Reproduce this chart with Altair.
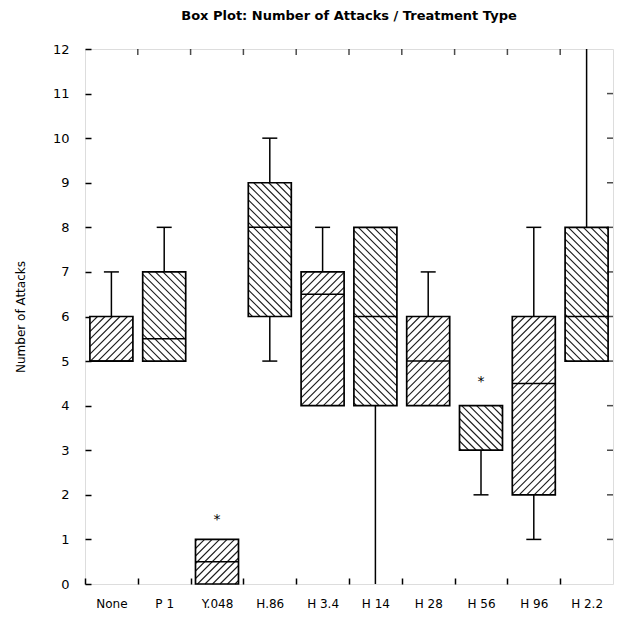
import json
import math
import altair as alt
import pandas as pd

# ---------------- data ----------------
categories = ["None", "P 1", "Y.048", "H.86", "H 3.4", "H 14", "H 28", "H 56", "H 96", "H 2.2"]
q1 =        [5, 5,   0,   6, 4,   4, 4, 3, 2,   5]
median =    [5, 5.5, 0.5, 8, 6.5, 6, 5, 3, 4.5, 6]
q3 =        [6, 7,   1,   9, 7,   8, 6, 4, 6,   8]
whisk_lo =  [5, 5,   0,   5, 4,   0, 4, 2, 1,   5]
whisk_hi =  [7, 8,   1,  10, 8,   8, 7, 4, 8,  12]
hatch_dir = ["/", "\\", "/", "\\", "/", "\\", "/", "\\", "/", "\\"]
outlier_cat = ["Y.048", "H 56"]
outlier_val = [1.5, 4.6]
y_ticks = list(range(0, 13))

# ---------------- layout / style ----------------
W, H = 528, 535
X_DOMAIN = [-0.5, 9.5]
Y_DOMAIN = [0, 12]
PXX = W / (X_DOMAIN[1] - X_DOMAIN[0])   # px per x unit
PXY = H / (Y_DOMAIN[1] - Y_DOMAIN[0])   # px per y unit
BOX_HALF = 21.5 / PXX
CAP_HALF = 7.5 / PXX
HATCH_STEP = 7.5   # horizontal spacing of hatch lines in px
FONT = "DejaVu Sans"

idx = {c: i for i, c in enumerate(categories)}

boxes = pd.DataFrame({
    "cat": categories,
    "xc": list(range(len(categories))),
    "q1": q1, "median": median, "q3": q3,
    "lo": whisk_lo, "hi": whisk_hi,
})
boxes["x0"] = boxes["xc"] - BOX_HALF
boxes["x1"] = boxes["xc"] + BOX_HALF
boxes["c0"] = boxes["xc"] - CAP_HALF
boxes["c1"] = boxes["xc"] + CAP_HALF

# whiskers (only where they leave the box)
wh_rows = []
for _, r in boxes.iterrows():
    if r["hi"] > r["q3"]:
        wh_rows.append({"xc": r["xc"], "ya": r["q3"], "yb": r["hi"], "c0": r["c0"], "c1": r["c1"], "cap": r["hi"] < Y_DOMAIN[1]})
    if r["lo"] < r["q1"]:
        wh_rows.append({"xc": r["xc"], "ya": r["q1"], "yb": r["lo"], "c0": r["c0"], "c1": r["c1"], "cap": r["lo"] > Y_DOMAIN[0]})
whiskers = pd.DataFrame(wh_rows)
caps = whiskers[whiskers["cap"]]

# hatch lines, computed in pixel space from the box extents, converted back to data
def to_u(x):
    return (x - X_DOMAIN[0]) * PXX

def to_v(y):
    return (y - Y_DOMAIN[0]) * PXY

hatch_rows = []
for i, r in boxes.iterrows():
    u0, u1 = to_u(r["x0"]), to_u(r["x1"])
    v0, v1 = to_v(r["q1"]), to_v(r["q3"])
    d = hatch_dir[i]
    if d == "/":
        cmin, cmax = v0 - u1, v1 - u0
    else:
        cmin, cmax = v0 + u0, v1 + u1
    for k in range(math.ceil(cmin / HATCH_STEP), math.floor(cmax / HATCH_STEP) + 1):
        c = k * HATCH_STEP
        if d == "/":
            ua, ub = max(u0, v0 - c), min(u1, v1 - c)
            va, vb = ua + c, ub + c
        else:
            ua, ub = max(u0, c - v1), min(u1, c - v0)
            va, vb = c - ua, c - ub
        if ub - ua > 0.6:
            hatch_rows.append({
                "xa": ua / PXX + X_DOMAIN[0], "xb": ub / PXX + X_DOMAIN[0],
                "ya": va / PXY + Y_DOMAIN[0], "yb": vb / PXY + Y_DOMAIN[0],
            })
hatch = pd.DataFrame(hatch_rows)

outliers = pd.DataFrame({"xc": [idx[c] for c in outlier_cat], "v": outlier_val, "t": ["*"] * len(outlier_val)})

band_edges = [i + 0.5 for i in range(len(categories) - 1)]
top_ticks = pd.DataFrame({"x": band_edges, "y": [Y_DOMAIN[1]] * len(band_edges)})
right_ticks = pd.DataFrame({"y": y_ticks[1:-1], "x": [X_DOMAIN[1]] * (len(y_ticks) - 2)})

xscale = alt.Scale(domain=X_DOMAIN, nice=False, zero=False)
yscale = alt.Scale(domain=Y_DOMAIN, nice=False, zero=False)

label_expr = json.dumps(categories) + "[round(datum.value + 0.5)]"

x_axis = alt.Axis(
    values=[-0.5] + band_edges, labelExpr=label_expr, labelOffset=PXX / 2,
    labelFlush=False, labelOverlap=False, labelBound=False,
    offset=-6, tickSize=6, domain=False, grid=False, tickColor="black", tickWidth=1.5,
    labelFont=FONT, labelFontSize=12, labelColor="black", labelPadding=14, title=None,
)
y_axis = alt.Axis(
    values=y_ticks, offset=-6, tickSize=6, domain=False, grid=False,
    tickColor="black", tickWidth=1.5,
    labelFont=FONT, labelFontSize=13, labelColor="black", labelPadding=16,
    title="Number of Attacks", titleFont=FONT, titleFontSize=12,
    titleFontWeight="normal", titleColor="black", titlePadding=25,
)

box_fill = alt.Chart(boxes).mark_rect(fill="white", stroke=None).encode(
    x=alt.X("x0:Q", scale=xscale, axis=x_axis),
    x2="x1:Q",
    y=alt.Y("q1:Q", scale=yscale, axis=y_axis),
    y2="q3:Q",
)

hatch_layer = alt.Chart(hatch).mark_rule(color="#1a1a1a", strokeWidth=1.1).encode(
    x=alt.X("xa:Q", scale=xscale), x2="xb:Q",
    y=alt.Y("ya:Q", scale=yscale), y2="yb:Q",
)

box_outline = alt.Chart(boxes).mark_rect(fill=None, stroke="black", strokeWidth=1.7).encode(
    x=alt.X("x0:Q", scale=xscale), x2="x1:Q",
    y=alt.Y("q1:Q", scale=yscale), y2="q3:Q",
)

median_layer = alt.Chart(boxes).mark_rule(color="black", strokeWidth=1.5).encode(
    x=alt.X("x0:Q", scale=xscale), x2="x1:Q",
    y=alt.Y("median:Q", scale=yscale),
)

whisker_layer = alt.Chart(whiskers).mark_rule(color="black", strokeWidth=1.5).encode(
    x=alt.X("xc:Q", scale=xscale),
    y=alt.Y("ya:Q", scale=yscale), y2="yb:Q",
)

cap_layer = alt.Chart(caps).mark_rule(color="black", strokeWidth=1.5).encode(
    x=alt.X("c0:Q", scale=xscale), x2="c1:Q",
    y=alt.Y("yb:Q", scale=yscale),
)

star_layer = alt.Chart(outliers).mark_text(font=FONT, fontSize=14, color="black", baseline="middle", dy=3).encode(
    x=alt.X("xc:Q", scale=xscale),
    y=alt.Y("v:Q", scale=yscale),
    text="t:N",
)

top_tick_layer = alt.Chart(top_ticks).mark_tick(orient="vertical", size=6, thickness=1.5, color="black", yOffset=3).encode(
    x=alt.X("x:Q", scale=xscale), y=alt.Y("y:Q", scale=yscale),
)
right_tick_layer = alt.Chart(right_ticks).mark_tick(orient="horizontal", size=6, thickness=1.5, color="black", xOffset=-3).encode(
    x=alt.X("x:Q", scale=xscale), y=alt.Y("y:Q", scale=yscale),
)

chart = alt.layer(
    box_fill, hatch_layer, box_outline, median_layer, whisker_layer, cap_layer,
    star_layer, top_tick_layer, right_tick_layer,
).properties(
    width=W, height=H,
    title=alt.TitleParams(
        "Box Plot: Number of Attacks / Treatment Type",
        font=FONT, fontSize=13, fontWeight="bold", color="black",
        anchor="middle", offset=20,
    ),
    autosize=alt.AutoSizeParams(type="none"),
    padding={"left": 77, "top": 41, "right": 1, "bottom": 36},
).configure_view(stroke="black", strokeWidth=1.5).configure(background="white")

chart.save("out.html", embed_options={"renderer": "svg", "actions": False})
